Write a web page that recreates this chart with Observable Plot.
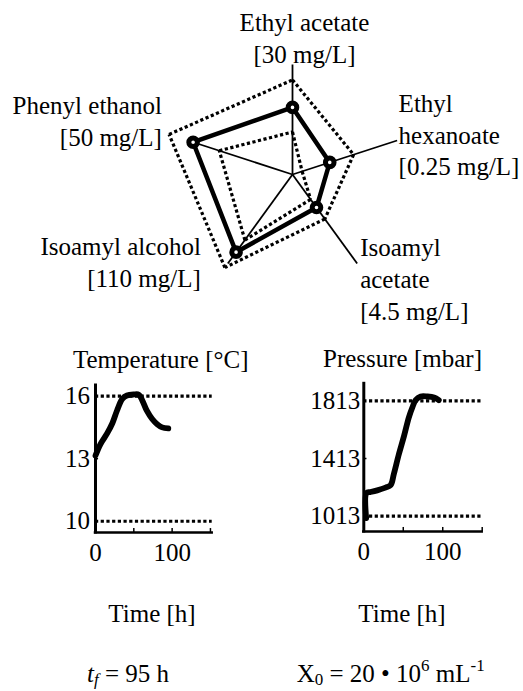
<!DOCTYPE html>
<html><head><meta charset="utf-8">
<script src="https://cdn.jsdelivr.net/npm/d3@7"></script>
<script src="https://cdn.jsdelivr.net/npm/@observablehq/plot@0.6"></script>
<style>
html,body{margin:0;padding:0;background:#fff;}
#page{position:relative;width:523px;height:691px;font-family:"Liberation Serif","Times New Roman",serif;font-size:25px;color:#000;}
#page svg{position:absolute;left:0;top:0;}
.t{position:absolute;white-space:nowrap;line-height:28px;}
sub,sup{font-size:0.68em;line-height:1;vertical-align:baseline;position:relative;}
sub{top:0.2em;}
sup{top:-0.6em;}
</style></head><body><div id="page"></div>
<script>
// ---------- data ----------
const aromaNames = ["Ethyl acetate", "Ethyl hexanoate", "Isoamyl acetate", "Isoamyl alcohol", "Phenyl ethanol"];
const aromaLabels = [
  ["Ethyl acetate", "[30 mg/L]"],
  ["Ethyl", "hexanoate", "[0.25 mg/L]"],
  ["Isoamyl", "acetate", "[4.5 mg/L]"],
  ["Isoamyl alcohol", "[110 mg/L]"],
  ["Phenyl ethanol", "[50 mg/L]"]
];
const aromaMax = [30, 0.25, 4.5, 110, 50];          // mg/L, axis full length
const aromaSample = [18.3, 0.089, 1.67, 96, 47.5];   // this fermentation
const aromaUpper = [25.8, 0.146, 2.25, 115, 59];     // upper bound (dotted)
const aromaLower = [11.6, 0.023, 1.26, 81, 35];      // lower bound (dotted)

const tempTime  = [0, 6.5, 15, 22, 28, 35, 41, 50, 56.5, 61, 67, 74, 80.5, 87, 95];
const tempValue = [13.15, 13.7, 14.2, 14.7, 15.3, 15.87, 16.03, 16.08, 16.07, 15.8, 15.3, 14.9, 14.65, 14.5, 14.45];
const tempTicksY = [10, 13, 16];
const tempRefs = [10, 16];

const presTime  = [3, 3.5, 8, 17, 27.5, 34, 38, 44.5, 51, 57, 61.5, 65.7, 72, 80.5, 89, 95];
const presValue = [1000, 1175, 1180, 1192, 1211, 1228, 1304, 1444, 1570, 1697, 1767, 1818, 1843, 1843, 1836, 1818];
const presTicksY = [1013, 1413, 1813];
const presRefs = [1013, 1813];

const timeTickLabels = [0, 100];
const timeTickMarks = [50, 100, 150];

// ---------- layout ----------
const W = 523, H = 691;
const page = document.getElementById("page");
const style = {fontFamily: "Liberation Serif, Times New Roman, serif", fontSize: "25px", background: "none", overflow: "visible"};
const dotted = {stroke: "black", strokeWidth: 3.2, strokeDasharray: "3.2,2.5"};

// ---------- radar ----------
const cx = 292, cy = 174, R = 110;
const angle = i => (90 - 72 * i) * Math.PI / 180;
const poly = vals => vals.map((v, i) => ({x: v / aromaMax[i] * Math.cos(angle(i)), y: v / aromaMax[i] * Math.sin(angle(i))}));
const edges = vals => {
  const p = poly(vals);
  return p.map((a, i) => {
    const b = p[(i + 1) % p.length];
    return {x1: a.x, y1: a.y, x2: b.x, y2: b.y};
  });
};
const axisRows = aromaNames.map((n, i) => ({name: n, x: Math.cos(angle(i)), y: Math.sin(angle(i)), text: aromaLabels[i].join("\n")}));
const labelPlacement = [
  {textAnchor: "middle", lineAnchor: "bottom", dx: 12, dy: -2},
  {textAnchor: "start", lineAnchor: "middle", dx: 1.5, dy: -7},
  {textAnchor: "start", lineAnchor: "top", dx: 3, dy: -30},
  {textAnchor: "end", lineAnchor: "middle", dx: -27, dy: -3},
  {textAnchor: "end", lineAnchor: "middle", dx: -26, dy: -21}
];

const radar = Plot.plot({
  width: W, height: H, margin: 0,
  x: {domain: [-1, 1], range: [cx - R, cx + R], axis: null},
  y: {domain: [-1, 1], range: [cy + R, cy - R], axis: null},
  style,
  marks: [
    Plot.link(axisRows, {x1: 0, y1: 0, x2: "x", y2: "y", stroke: "black", strokeWidth: 1.8}),
    Plot.link(edges(aromaUpper), {x1: "x1", y1: "y1", x2: "x2", y2: "y2", ...dotted}),
    Plot.link(edges(aromaLower), {x1: "x1", y1: "y1", x2: "x2", y2: "y2", ...dotted}),
    Plot.line(poly(aromaSample), {x: "x", y: "y", curve: "linear-closed", stroke: "black", strokeWidth: 4.5, strokeLinejoin: "round"}),
    Plot.dot(poly(aromaSample), {x: "x", y: "y", r: 4.3, stroke: "black", strokeWidth: 5, fill: "white"}),
    ...axisRows.map((row, i) => Plot.text([row], {x: "x", y: "y", text: "text", fontSize: 25, lineHeight: 1.27, fill: "black", ...labelPlacement[i]}))
  ]
});
page.appendChild(radar);

// ---------- small time charts ----------
function timeChart({left, right, top, bottom, yDomain, xDomain, time, value, ticksY, refs, yNub, xTickLen, yNubLen, labelPad}) {
  const rows = time.map((t, i) => ({t, v: value[i]}));
  const y0 = yDomain[0];
  return Plot.plot({
    width: W, height: H,
    marginLeft: left, marginRight: W - right, marginTop: top, marginBottom: H - bottom,
    x: {domain: xDomain, axis: null},
    y: {domain: yDomain, axis: null},
    style,
    marks: [
      Plot.ruleY(refs, dotted),
      Plot.ruleX(timeTickMarks, {y1: y0, y2: y0 + xTickLen, stroke: "black", strokeWidth: 1.5}),
      Plot.ruleY([yNub], {x1: 0, x2: yNubLen, stroke: "black", strokeWidth: 1.5}),
      Plot.line(rows, {x: "t", y: "v", stroke: "black", strokeWidth: 5.8, strokeLinecap: "round", strokeLinejoin: "round", curve: "catmull-rom"}),
      Plot.ruleX([0], {stroke: "black", strokeWidth: 3, strokeLinecap: "square"}),
      Plot.ruleY([y0], {stroke: "black", strokeWidth: 2.5, strokeLinecap: "square"}),
      Plot.text(ticksY, {x: 0, y: d => d, text: d => String(d), textAnchor: "end", dx: -labelPad, fontSize: 25, fill: "black"}),
      Plot.text(timeTickLabels, {x: d => d, y: y0, text: d => String(d), lineAnchor: "bottom", dy: 28, fontSize: 25, fill: "black"})
    ]
  });
}

page.appendChild(timeChart({
  left: 95, right: 211.7, top: 385, bottom: 532,
  yDomain: [9.46, 16.51], xDomain: [0, 152.3],
  time: tempTime, value: tempValue, ticksY: tempTicksY, refs: tempRefs,
  yNub: 13, xTickLen: 0.19, yNubLen: 4, labelPad: 5.5
}));
page.appendChild(timeChart({
  left: 363.3, right: 481.7, top: 383.3, bottom: 531,
  yDomain: [907, 1931], xDomain: [0, 150],
  time: presTime, value: presValue, ticksY: presTicksY, refs: presRefs,
  yNub: 1413, xTickLen: 28, yNubLen: 4, labelPad: 3.5
}));

// ---------- titles & captions ----------
// line-height 28px: baseline sits ~22.4px below the box top for Liberation Serif 25px
function addText(html, left, baseline, center) {
  const d = document.createElement("div");
  d.className = "t";
  d.innerHTML = html;
  d.style.left = left + "px";
  d.style.top = (baseline - 22.4) + "px";
  if (center) d.style.transform = "translateX(-50%)";
  page.appendChild(d);
}
addText("Temperature [°C]", 73, 368);
addText("Pressure [mbar]", 323, 367);
addText("Time [h]", 152, 622, true);
addText("Time [h]", 402, 622, true);
addText("<i>t</i><sub><i>f</i></sub> = 95 h", 87, 682);
addText("X<sub>0</sub> = 20 • 10<sup>6</sup> mL<sup>-1</sup>", 296.7, 682);
</script></body></html>
